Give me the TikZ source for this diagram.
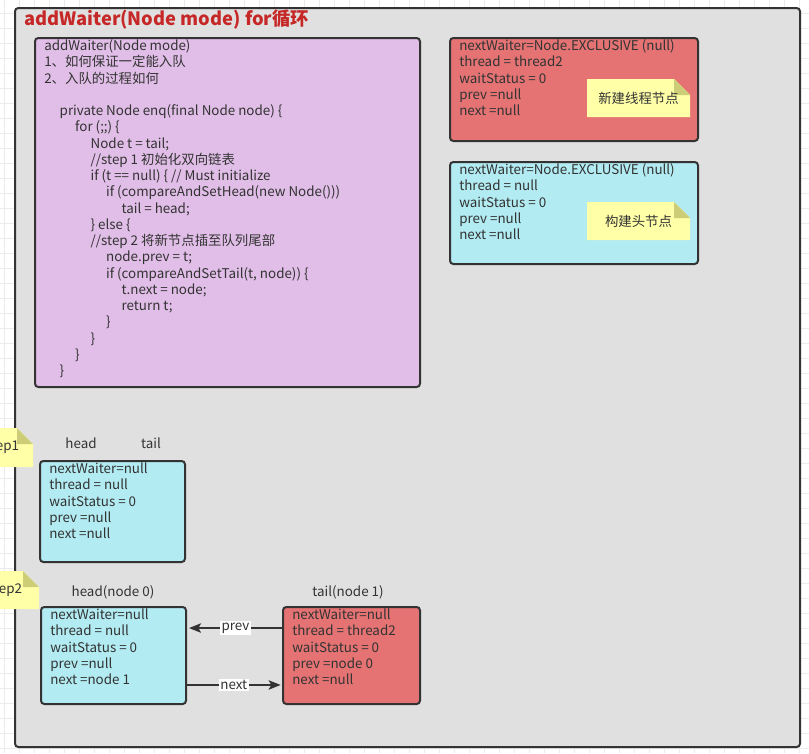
\documentclass[tikz,border=0pt]{standalone}
\usepackage{fontspec}
\setmainfont{Noto Sans CJK SC}
\usetikzlibrary{arrows.meta,calc}
\definecolor{txt}{HTML}{333333}
\definecolor{edge}{HTML}{333333}
\definecolor{gridc}{HTML}{EBEBEB}
\definecolor{framefill}{HTML}{E0E0E0}
\definecolor{purp}{HTML}{E1BEE7}
\definecolor{redbox}{HTML}{E57373}
\definecolor{cyanbox}{HTML}{B2EBF2}
\definecolor{notefill}{HTML}{FFFFA8}
\definecolor{foldfill}{HTML}{CDCD78}
\definecolor{titlered}{HTML}{C62828}
\newlength\indu
\setlength\indu{11.6pt}
\newcommand\lns[1]{\begin{tabular}[t]{@{}l@{}}#1\end{tabular}}
\begin{document}
\begin{tikzpicture}[x=0.75pt,y=-0.75pt,
  box/.style={draw=edge, line width=1.5pt, rounded corners=2.5pt, anchor=north west, inner sep=0},
  body/.style={anchor=base west, inner sep=0, text=txt, font=\fontsize{10.05}{12.19}\selectfont},
  lbl/.style={anchor=base, inner sep=0, text=txt, font=\fontsize{10.05}{12.19}\selectfont},
  notebox/.style={inner sep=0, text=txt, font=\fontsize{10.05}{12.19}\selectfont,
    path picture={
      \fill[notefill] (path picture bounding box.south west) -- (path picture bounding box.north west)
        -- ([xshift=-12pt]path picture bounding box.north east) -- ([yshift=-12pt]path picture bounding box.north east)
        -- (path picture bounding box.south east) -- cycle;
      \fill[foldfill] ([xshift=-12pt]path picture bounding box.north east)
        -- ([xshift=-12pt,yshift=-12pt]path picture bounding box.north east)
        -- ([yshift=-12pt]path picture bounding box.north east) -- cycle;
    }},
  conn/.style={draw=edge, line width=1.5pt, -{Stealth[length=9pt,width=7pt,inset=2pt]}},
  clbl/.style={fill=white, inner sep=1pt, text=txt, font=\fontsize{10.05}{12.19}\selectfont}
]
\clip (0,0) rectangle (809,753);
\fill[white] (0,0) rectangle (809,753);
\foreach \gx in {4,19,...,809} \draw[gridc, line width=0.75pt] (\gx,0) -- (\gx,753);
\foreach \gy in {13,28,...,753} \draw[gridc, line width=0.75pt] (0,\gy) -- (809,\gy);

% outer container
\node[box, fill=framefill, minimum width=785*0.75pt, minimum height=739*0.75pt] (outer) at (14,7) {};
\node[anchor=base west, inner sep=0, text=titlered, font=\fontsize{13.75}{16}\selectfont\bfseries] (title) at (24,25.5) {addWaiter(Node mode) for循环};

% code box
\node[box, fill=purp, minimum width=385*0.75pt, minimum height=349*0.75pt] (code) at (34,37) {};
\node[body] (codeT) at ($(code.north west)+(10,13.5)$) {\lns{%
addWaiter(Node mode)\\
1、如何保证一定能入队\\
2、入队的过程如何\\
\\
\hspace*{1\indu}private Node enq(final Node node) \{\\
\hspace*{2\indu}for (;;) \{\\
\hspace*{3\indu}Node t = tail;\\
\hspace*{3\indu}//step 1 初始化双向链表\\
\hspace*{3\indu}if (t == null) \{ // Must initialize\\
\hspace*{4\indu}if (compareAndSetHead(new Node()))\\
\hspace*{5\indu}tail = head;\\
\hspace*{3\indu}\} else \{\\
\hspace*{3\indu}//step 2 将新节点插至队列尾部\\
\hspace*{4\indu}node.prev = t;\\
\hspace*{4\indu}if (compareAndSetTail(t, node)) \{\\
\hspace*{5\indu}t.next = node;\\
\hspace*{5\indu}return t;\\
\hspace*{4\indu}\}\\
\hspace*{3\indu}\}\\
\hspace*{2\indu}\}\\
\hspace*{1\indu}\}}};

% new thread node
\node[box, fill=redbox, minimum width=248*0.75pt, minimum height=103*0.75pt] (newn) at (449,37) {};
\node[body] (newnT) at ($(newn.north west)+(10,13.5)$) {\lns{%
nextWaiter=Node.EXCLUSIVE (null)\\
thread = thread2\\
waitStatus = 0\\
prev =null\\
next =null}};
\node[notebox, minimum width=103*0.75pt, minimum height=38*0.75pt] (note1) at (638.5,98) {新建线程节点};

% head node construction
\node[box, fill=cyanbox, minimum width=248*0.75pt, minimum height=102*0.75pt] (headn) at (449,161) {};
\node[body] (headnT) at ($(headn.north west)+(10,13.5)$) {\lns{%
nextWaiter=Node.EXCLUSIVE (null)\\
thread = null\\
waitStatus = 0\\
prev =null\\
next =null}};
\node[notebox, minimum width=103*0.75pt, minimum height=38*0.75pt] (note2) at (638.5,221) {构建头节点};

% step 1
\node[notebox, minimum width=62*0.75pt, minimum height=39*0.75pt] (step1) at (2,447.5) {step1};
\node[lbl] (h1) at (81,448.5) {head};
\node[lbl] (t1) at (151,448.5) {tail};
\node[box, fill=cyanbox, minimum width=145*0.75pt, minimum height=101*0.75pt] (s1) at (39,460) {};
\node[body] (s1T) at ($(s1.north west)+(10,13.5)$) {\lns{%
nextWaiter=null\\
thread = null\\
waitStatus = 0\\
prev =null\\
next =null}};

% step 2
\node[notebox, minimum width=68*0.75pt, minimum height=38*0.75pt] (step2) at (5,590) {step2};
\node[lbl] (h2) at (113,596) {head(node 0)};
\node[lbl] (t2) at (348,596) {tail(node 1)};
\node[box, fill=cyanbox, minimum width=145*0.75pt, minimum height=97*0.75pt] (hd) at (40,606) {};
\node[body] (hdT) at ($(hd.north west)+(10,13.5)$) {\lns{%
nextWaiter=null\\
thread = null\\
waitStatus = 0\\
prev =null\\
next =node 1}};
\node[box, fill=redbox, minimum width=137*0.75pt, minimum height=97*0.75pt] (tl) at (282,606) {};
\node[body] (tlT) at ($(tl.north west)+(10,13.5)$) {\lns{%
nextWaiter=null\\
thread = thread2\\
waitStatus = 0\\
prev =node 0\\
next =null}};

\draw[conn] ([yshift=20.6pt]tl.west) -- node[clbl] {prev} ([xshift=1.5pt,yshift=20.6pt]hd.east);
\draw[conn] ([yshift=-22.1pt]hd.east) -- node[clbl] {next} ([xshift=-1pt,yshift=-22.1pt]tl.west);
\end{tikzpicture}
\end{document}
